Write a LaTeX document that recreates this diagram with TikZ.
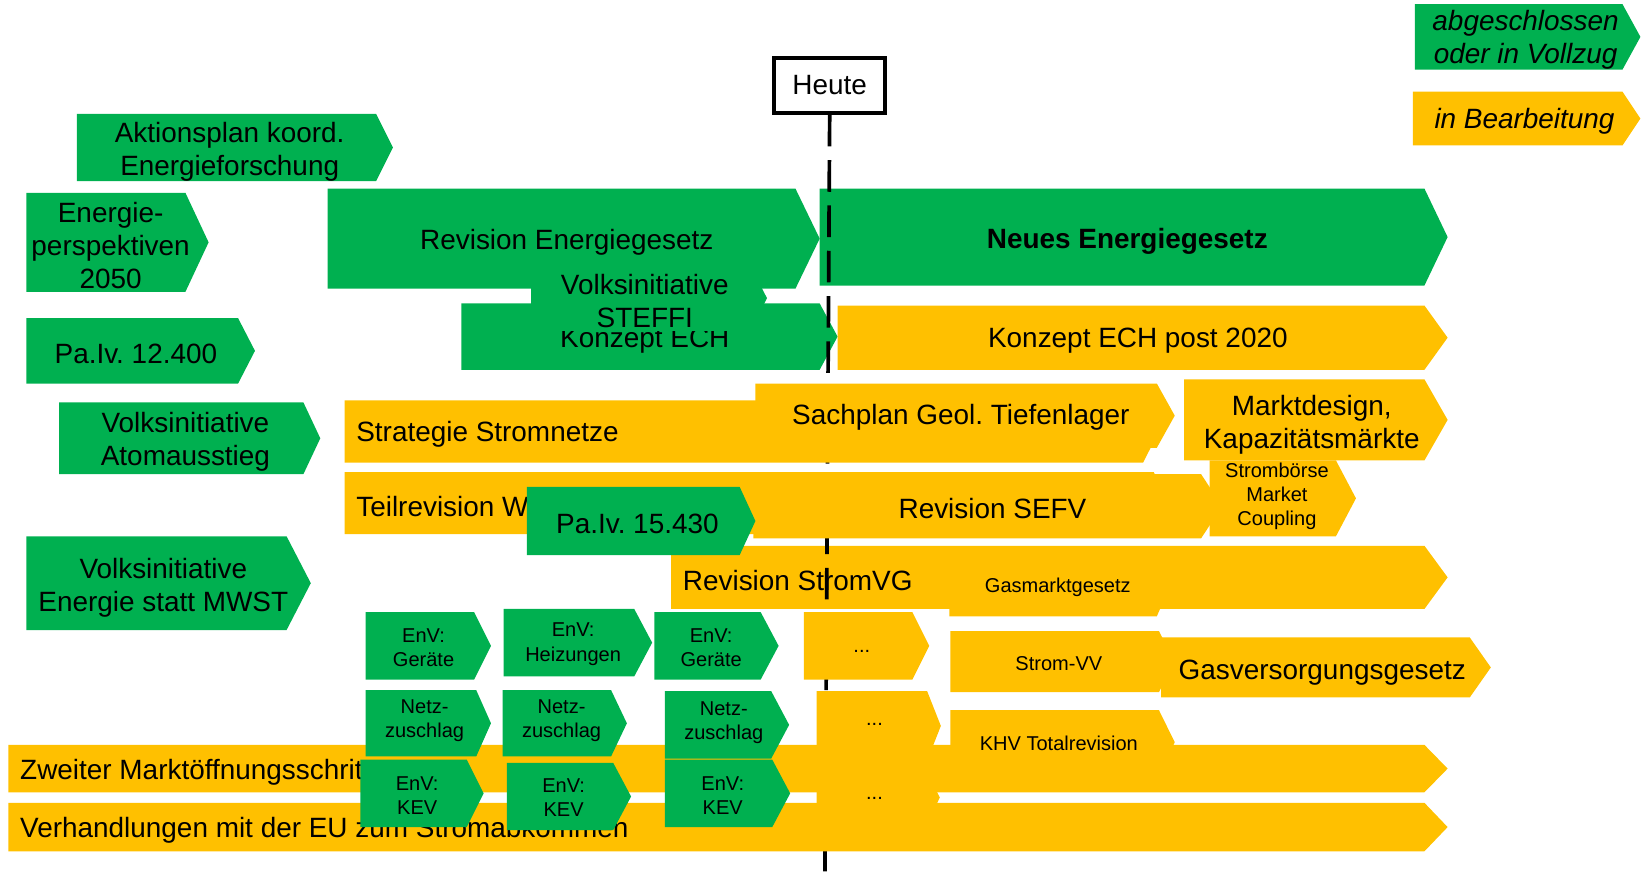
\documentclass[tikz,border=0pt]{standalone}
\usepackage{fontspec}
\setmainfont{Liberation Sans}
\frenchspacing
\definecolor{grn}{RGB}{0,176,80}
\definecolor{ylw}{RGB}{255,192,0}
% #1 style, #2 x left, #3 y top, #4 x body end, #5 x tip, #6 y bottom
\newcommand\chev[6]{\path[#1] (#2,#3) -- (#4,#3) -- (#5,{(#3+#6)/2}) -- (#4,#6) -- (#2,#6) -- cycle;}
\begin{document}
\begin{tikzpicture}[x=1pt,y=-1pt,
  gr/.style={fill=grn},
  yl/.style={fill=ylw},
  big/.style={font=\fontsize{26.5}{31.5}\selectfont,align=center,inner sep=0pt},
  bigl/.style={big,anchor=west},
  sm/.style={font=\fontsize{19}{23}\selectfont,align=center,inner sep=0pt},
  leg/.style={font=\fontsize{26.5}{31.5}\selectfont\itshape,align=center,inner sep=0pt},
  heutebox/.style={draw=black,line width=3.5pt,minimum width=105.5pt,minimum height=52.5pt,inner sep=0pt,fill=white,font=\fontsize{26.5}{31.5}\selectfont},
  today/.style={line width=3.5pt,dash pattern=on 30pt off 13pt},
]
\useasboundingbox (0,0) rectangle (1568,828);

% legend
\chev{gr}{1343}{4}{1540}{1557}{66}
\node[leg] (legA) at (1448,37.5) {abgeschlossen\\oder in Vollzug};
\chev{yl}{1341}{87}{1540}{1557}{138}
\node[leg] (legB) at (1447,115) {in Bearbeitung};

% left column (green)
\chev{gr}{73}{108}{357}{373}{172}
\node[big] (akt) at (218,144) {Aktionsplan koord.\\Energieforschung};
\chev{gr}{25}{183}{176}{198}{277}
\node[big] (ep) at (105,233) {Energie-\\perspektiven\\2050};
\chev{gr}{25}{302}{226}{242}{364}
\node[big] (pa124) at (129,335.5) {Pa.Iv. 12.400};
\chev{gr}{56}{382}{288}{304}{450}
\node[big] (atom) at (176,419.5) {Volksinitiative\\Atomausstieg};
\chev{gr}{25}{509}{272}{295}{598}
\node[big] (mwst) at (155,557.5) {Volksinitiative\\Energie statt MWST};

% energy law row
\chev{gr}{311}{179}{755}{778}{274}
\node[big] (reve) at (538,230) {Revision Energiegesetz};
\chev{gr}{778}{179}{1352}{1374}{271}
\node[big,font=\fontsize{26.5}{31.5}\selectfont\bfseries] (neue) at (1070,229) {Neues Energiegesetz};

% ECH row
\chev{gr}{438}{288}{778}{795}{351}
\node[big] (ech) at (612,323) {Konzept ECH};
\chev{yl}{795}{290}{1352}{1374}{351}
\node[big] (ech2) at (1080,323) {Konzept ECH post 2020};
\chev{gr}{504}{252}{712}{728}{314}
\node[big] (steffi) at (612,286) {Volksinitiative\\STEFFI};

% StromVG (below the today line)
\chev{yl}{637}{518}{1352}{1374}{578}
\node[bigl] (svg) at (648,551) {Revision StromVG};

% today line
\node[heutebox] (heute) at (787.5,81) {Heute};
\coordinate (lineend) at (783,828);
\draw[today] (heute.south) -- (lineend);

% networks / Sachplan
\chev{yl}{327}{380}{1085}{1100}{439}
\node[bigl] (strat) at (338,412.5) {Strategie Stromnetze};
\chev{yl}{717}{364}{1098}{1115}{425}
\node[big] (sach) at (912,396.5) {Sachplan Geol. Tiefenlager};

% Teilrevision / SEFV
\chev{yl}{327}{448}{1095}{1110}{507}
\node[bigl] (teil) at (338,481) {Teilrevision W};
\chev{yl}{715}{450}{1140}{1160}{511}
\node[big] (sefv) at (942,483) {Revision SEFV};
\chev{gr}{500}{462}{702}{717}{527}
\node[big] (pa154) at (605,497) {Pa.Iv. 15.430};

% Marktdesign / Strombörse
\chev{yl}{1124}{360}{1352}{1374}{437}
\node[big] (markt) at (1245,403) {Marktdesign,\\Kapazitätsmärkte};
\chev{yl}{1148}{437}{1268}{1287}{509}
\node[sm] (boerse) at (1212,471) {Strombörse\\Market\\Coupling};

% gas / ordinances
\chev{yl}{901}{520}{1098}{1112}{585}
\node[sm] (gasm) at (1004,557.5) {Gasmarktgesetz};
\chev{yl}{902}{599}{1100}{1115}{657}
\node[sm] (svv) at (1005,629.5) {Strom-VV};
\chev{yl}{1102}{605}{1395}{1415}{662}
\node[big] (gasv) at (1255,638) {Gasversorgungsgesetz};

% long bars
\chev{yl}{8}{707}{1352}{1374}{752}
\node[bigl] (zweit) at (19,733) {Zweiter Marktöffnungsschritt};
\chev{yl}{8}{762}{1352}{1374}{808}
\node[bigl] (verh) at (19,788) {Verhandlungen mit der EU zum Stromabkommen};
\chev{yl}{902}{674}{1100}{1115}{735}
\node[sm] (khv) at (1005,706) {KHV Totalrevision};

% ordinance boxes (green)
\chev{gr}{347}{581}{450}{466}{645}
\node[sm] (g1) at (402,615) {EnV:\\Geräte};
\chev{gr}{478}{578}{602}{619}{642}
\node[sm] (g2) at (544,611.5) {EnV:\\Heizungen};
\chev{gr}{621}{581}{722}{739}{645}
\node[sm] (g3) at (675,615) {EnV:\\Geräte};
\chev{gr}{347}{655}{452}{466}{718}
\node[sm] (n1) at (403,684) {Netz-\\zuschlag};
\chev{gr}{477}{655}{580}{595}{718}
\node[sm] (n2) at (533,684) {Netz-\\zuschlag};
\chev{gr}{631}{656}{732}{749}{720}
\node[sm] (n3) at (687,686) {Netz-\\zuschlag};
\chev{gr}{342}{721}{443}{459}{785}
\node[sm] (k1) at (396,755) {EnV:\\KEV};
\chev{gr}{481}{724}{582}{599}{788}
\node[sm] (k2) at (535,757) {EnV:\\KEV};
\chev{gr}{631}{721}{733}{750}{785}
\node[sm] (k3) at (686,755) {EnV:\\KEV};

% future placeholders
\chev{yl}{763}{581}{866}{882}{645}
\node[sm] (d1) at (818,618) {...};
\chev{yl}{775}{656}{880}{893}{722}
\node[sm] (d2) at (830,688) {...};
\chev{yl}{775}{722}{875}{892}{792}
\node[sm] (d3) at (830,758) {...};
\end{tikzpicture}
\end{document}
